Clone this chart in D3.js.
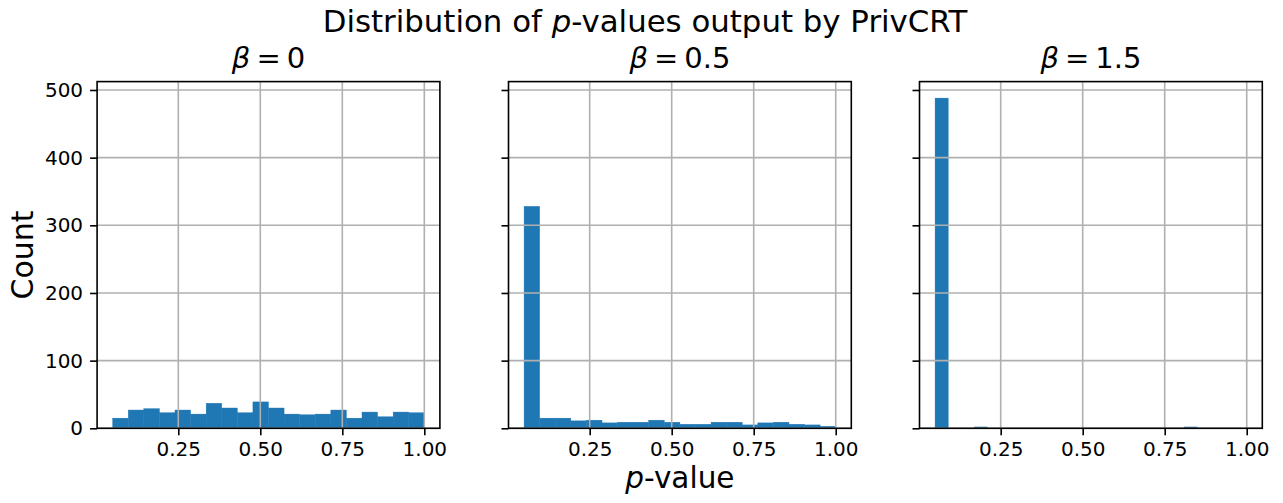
<!DOCTYPE html>
<html>
<head>
<meta charset="utf-8">
<script src="https://cdn.jsdelivr.net/npm/d3@7"></script>
<style>
  html, body { margin: 0; padding: 0; background: #fff; }
  svg { display: block; }
  text { font-family: "DejaVu Sans", sans-serif; fill: #000; }
</style>
</head>
<body>
<svg id="chart" width="1283" height="503"></svg>
<script>
// ---- data ----
const betas = ["0", "0.5", "1.5"];
const binLo = [0.05, 0.05, 0.05];
const binHi = [1.0, 1.0, 0.85];
const countsBeta0  = [15, 27, 29, 23, 27, 21, 37, 30, 23, 39, 30, 21, 20, 21, 27, 15, 24, 17, 24, 23];
const countsBeta05 = [328, 15, 15, 11, 12, 8, 9, 9, 12, 9, 6, 6, 9, 9, 5, 8, 9, 6, 5, 3];
const countsBeta15 = [488, 0, 0, 2, 0, 0, 0, 0, 0, 0, 0, 0, 0, 0, 0, 0, 0, 0, 0, 2];
const xTickValues = [0.25, 0.50, 0.75, 1.00];
const yTickValues = [0, 100, 200, 300, 400, 500];
const suptitleParts = ["Distribution of ", "p", "-values output by PrivCRT"];
const xLabelParts = ["p", "-value"];
const yLabel = "Count";

const allCounts = [countsBeta0, countsBeta05, countsBeta15];

// ---- layout ----
const svg = d3.select("#chart");
const plotTop = 81.6, plotBottom = 428.3;
const panelLefts = [97.1, 508.5, 919.5];
const panelWidth = 342.8;
const barColor = "#1f77b4";
const gridColor = "#b0b0b0";

const xMinData = d3.min(binLo), xMaxData = d3.max(binHi);
const xPad = (xMaxData - xMinData) * 0.05;
const yMax = d3.max(allCounts.flat()) * 1.05;

const y = d3.scaleLinear().domain([0, yMax]).range([plotBottom, plotTop]);

allCounts.forEach((counts, p) => {
  const left = panelLefts[p];
  const x = d3.scaleLinear()
    .domain([xMinData - xPad, xMaxData + xPad])
    .range([left, left + panelWidth]);
  const g = svg.append("g");
  const n = counts.length;
  const step = (binHi[p] - binLo[p]) / n;
  const bins = counts.map((c, i) => ({x0: binLo[p] + i * step, x1: binLo[p] + (i + 1) * step, c}));

  // bars
  g.selectAll("rect.bar").data(bins.filter(d => d.c > 0)).join("rect")
    .attr("class", "bar")
    .attr("x", d => x(d.x0))
    .attr("width", d => x(d.x1) - x(d.x0))
    .attr("y", d => y(d.c))
    .attr("height", d => y(0) - y(d.c))
    .attr("fill", barColor)
    .attr("stroke", barColor).attr("stroke-width", 0.4);

  // grid (above bars, like matplotlib)
  g.selectAll("line.vg").data(xTickValues).join("line")
    .attr("class", "vg")
    .attr("x1", d => x(d)).attr("x2", d => x(d))
    .attr("y1", plotTop).attr("y2", plotBottom)
    .attr("stroke", gridColor).attr("stroke-width", 1.6);
  g.selectAll("line.hg").data(yTickValues).join("line")
    .attr("class", "hg")
    .attr("x1", left).attr("x2", left + panelWidth)
    .attr("y1", d => y(d)).attr("y2", d => y(d))
    .attr("stroke", gridColor).attr("stroke-width", 1.6);

  // axes
  const xAxis = d3.axisBottom(x).tickValues(xTickValues)
    .tickFormat(d3.format(".2f")).tickSizeInner(7).tickSizeOuter(0).tickPadding(7);
  const gx = g.append("g").attr("transform", `translate(0,${plotBottom})`).call(xAxis);
  gx.select(".domain").remove();
  gx.selectAll("line").attr("stroke", "#000").attr("stroke-width", 1.6);
  gx.selectAll("text").attr("font-size", 20).attr("font-family", "DejaVu Sans").attr("dy", "0.71em");

  const yAxis = d3.axisLeft(y).tickValues(yTickValues)
    .tickSizeInner(7).tickSizeOuter(0).tickPadding(7)
    .tickFormat(p === 0 ? d3.format("d") : () => "");
  const gy = g.append("g").attr("transform", `translate(${left},0)`).call(yAxis);
  gy.select(".domain").remove();
  gy.selectAll("line").attr("stroke", "#000").attr("stroke-width", 1.6);
  gy.selectAll("text").attr("font-size", 20).attr("font-family", "DejaVu Sans");

  // frame
  g.append("rect")
    .attr("x", left).attr("y", plotTop)
    .attr("width", panelWidth).attr("height", plotBottom - plotTop)
    .attr("fill", "none").attr("stroke", "#000").attr("stroke-width", 1.6);

  // subplot title (mathtext-like spacing)
  const t = g.append("text")
    .attr("x", left + panelWidth / 2).attr("y", 68)
    .attr("text-anchor", "middle").attr("font-size", 29);
  t.append("tspan").attr("font-style", "italic").text("β");
  t.append("tspan").attr("dx", 6).text("=");
  t.append("tspan").attr("dx", 6).text(betas[p]);
});

// suptitle
const st = svg.append("text")
  .attr("x", 645).attr("y", 32)
  .attr("text-anchor", "middle").attr("font-size", 30.8);
st.append("tspan").text(suptitleParts[0]);
st.append("tspan").attr("font-style", "italic").text(suptitleParts[1]);
st.append("tspan").text(suptitleParts[2]);

// x label
const xl = svg.append("text")
  .attr("x", panelLefts[1] + panelWidth / 2).attr("y", 488)
  .attr("text-anchor", "middle").attr("font-size", 29.5);
xl.append("tspan").attr("font-style", "italic").text(xLabelParts[0]);
xl.append("tspan").text(xLabelParts[1]);

// y label
svg.append("text")
  .attr("transform", `translate(33,${(plotTop + plotBottom) / 2}) rotate(-90)`)
  .attr("text-anchor", "middle").attr("font-size", 30)
  .text(yLabel);
</script>
</body>
</html>
